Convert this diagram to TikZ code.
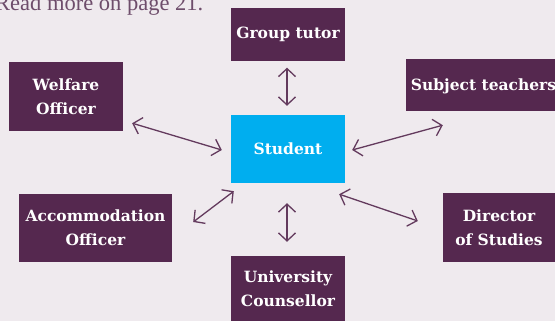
\documentclass[tikz,border=0pt]{standalone}
\usepackage{fontspec}
\setmainfont{DejaVu Serif}
\newfontfamily\readfont{Liberation Serif}
\usetikzlibrary{arrows.meta}
\definecolor{bgc}{HTML}{EFEAEE}
\definecolor{plum}{HTML}{55284F}
\definecolor{arrc}{HTML}{633A5D}
\definecolor{cyanbox}{HTML}{00AEEF}
\definecolor{readc}{HTML}{6E4D6B}
\tikzset{
  rolebox/.style={fill=plum, text=white, align=center, inner sep=0pt,
    font=\bfseries\fontsize{15.5}{24}\selectfont},
  studbox/.style={fill=cyanbox, text=white, align=center, inner sep=0pt,
    font=\bfseries\fontsize{15.5}{24}\selectfont},
  link/.style={draw=arrc, line width=1.3pt,
    {Straight Barb[length=8pt,width=17pt]}-{Straight Barb[length=8pt,width=17pt]}}
}
\begin{document}
\begin{tikzpicture}[x=1pt,y=-1pt]
\fill[bgc] (0,0) rectangle (555,321);
\useasboundingbox (0,0) rectangle (555,321);
\node[anchor=base west, text=readc, font=\readfont\fontsize{22.5}{24}\selectfont, inner sep=0pt] (read) at (-5,10.5) {Read more on page 21.};
% boxes
\node[rolebox, minimum width=114pt, minimum height=53pt] (gt) at (288,34.5) {Group tutor};
\node[rolebox, minimum width=114pt, minimum height=69pt] (wel) at (66,96.5) {Welfare\\Officer};
\node[rolebox, minimum width=154pt, minimum height=52pt] (sub) at (483,85) {};
\node[text=white, font=\bfseries\fontsize{15.5}{24}\selectfont, inner sep=0pt] (subt) at (483.5,86) {Subject teachers};
\node[studbox, minimum width=114pt, minimum height=68pt] (stu) at (288,149) {Student};
\node[rolebox, minimum width=153pt, minimum height=68pt] (acc) at (95.5,228) {Accommodation\\Officer};
\node[rolebox, minimum width=112pt, minimum height=69pt] (dir) at (499,227.5) {Director\\of Studies};
\node[rolebox, minimum width=114pt, minimum height=65pt] (uni) at (288,288.5) {University\\Counsellor};
% connectors
\draw[link] ([shift={(-1,6.5)}]gt.south) -- ([shift={(-1,-9)}]stu.north);
\draw[link] ([shift={(9,-8)}]wel.south east) -- ([shift={(-9,1)}]stu.west);
\draw[link] ([shift={(37,14)}]sub.south west) -- ([shift={(7,1)}]stu.east);
\draw[link] ([shift={(21,-6)}]acc.east) -- ([shift={(3,8)}]stu.south west);
\draw[link] ([shift={(-1,20)}]stu.south) -- ([shift={(-1,-14)}]uni.north);
\draw[link] ([shift={(-6,11)}]stu.south east) -- ([shift={(-25,-6.5)}]dir.west);
\end{tikzpicture}
\end{document}
